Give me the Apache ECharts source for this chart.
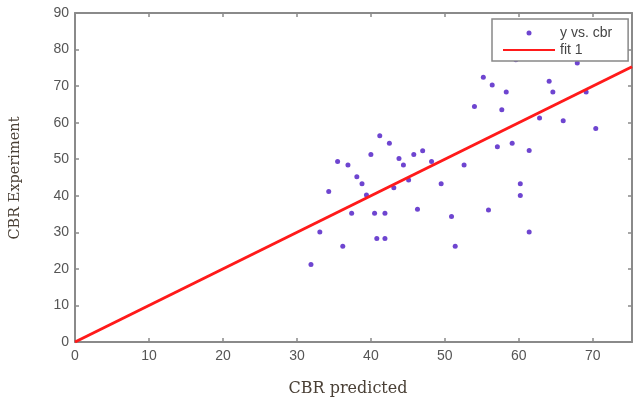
<!DOCTYPE html>
<html>
<head>
<meta charset="utf-8">
<script src="https://cdn.jsdelivr.net/npm/echarts@6/dist/echarts.min.js"></script>
<style>
  html, body { margin: 0; padding: 0; background: #fff; }
  #chart { width: 633px; height: 397px; }
</style>
</head>
<body>
<div id="chart"></div>
<script>
// CBR predicted (x) vs CBR experiment (y)
var cbrPred = [41.2, 42.5, 40.0, 35.5, 36.9, 43.8, 45.8, 47.0, 44.4, 48.2,
               52.6, 38.1, 38.8, 45.1, 49.5, 43.1, 34.3, 39.4, 37.4, 40.5,
               41.9, 46.3, 50.9, 33.1, 36.2, 40.8, 41.9, 51.4, 31.9,
               59.6, 67.9, 55.2, 56.4, 58.3, 64.1, 64.6, 69.1, 54.0, 57.7,
               62.8, 66.0, 70.4, 57.1, 59.1, 61.4, 60.2, 60.2, 55.9, 61.4];
var cbrExp  = [56.4, 54.4, 51.3, 49.4, 48.4, 50.2, 51.3, 52.3, 48.4, 49.4,
               48.4, 45.2, 43.3, 44.3, 43.3, 42.2, 41.2, 40.2, 35.2, 35.2,
               35.2, 36.3, 34.3, 30.1, 26.2, 28.3, 28.3, 26.2, 21.2,
               77.2, 76.3, 72.4, 70.3, 68.4, 71.3, 68.4, 68.4, 64.4, 63.5,
               61.3, 60.5, 58.4, 53.4, 54.4, 52.4, 43.3, 40.1, 36.1, 30.1];

// fit 1 (y = x)
var fitX = [0, 75.3];
var fitY = [0, 75.3];

var xTicks = [0, 10, 20, 30, 40, 50, 60, 70];
var yTicks = [0, 10, 20, 30, 40, 50, 60, 70, 80, 90];

var pts = [];
for (var i = 0; i < cbrPred.length; i++) {
    pts.push([cbrPred[i], cbrExp[i]]);
}
var fitData = [];
for (var j = 0; j < fitX.length; j++) {
    fitData.push([fitX[j], fitY[j]]);
}

var axisGray = '#8a8a8a';
var tickFont = { color: '#555', fontSize: 14, fontFamily: 'Liberation Sans' };

function xAx(pos, labels) {
    return {
        type: 'value', position: pos, min: 0, max: 75.3, interval: 10,
        axisLine: { show: true, onZero: false, lineStyle: { color: axisGray, width: 2 } },
        axisTick: { show: true, inside: true, length: 4, lineStyle: { color: axisGray, width: 1.5 }, customValues: xTicks },
        axisLabel: { show: labels, margin: 7, customValues: xTicks, color: tickFont.color, fontSize: tickFont.fontSize, fontFamily: tickFont.fontFamily },
        splitLine: { show: false }
    };
}
function yAx(pos, labels) {
    return {
        type: 'value', position: pos, min: 0, max: 90, interval: 10,
        axisLine: { show: true, onZero: false, lineStyle: { color: axisGray, width: 2 } },
        axisTick: { show: true, inside: true, length: 4, lineStyle: { color: axisGray, width: 1.5 }, customValues: yTicks },
        axisLabel: { show: labels, margin: 6, customValues: yTicks, color: tickFont.color, fontSize: tickFont.fontSize, fontFamily: tickFont.fontFamily },
        splitLine: { show: false }
    };
}

var option = {
    backgroundColor: '#fff',
    animation: false,
    grid: { left: 75, right: 1, top: 13, bottom: 55, outerBoundsMode: 'none' },
    xAxis: [xAx('bottom', true), xAx('top', false)],
    yAxis: [yAx('left', true), yAx('right', false)],
    legend: {
        orient: 'vertical',
        left: 492, top: 19,
        padding: [7, 16, 4, 10],
        itemWidth: 52, itemHeight: 5, itemGap: 3,
        backgroundColor: '#fff',
        borderColor: '#888', borderWidth: 1.5, borderRadius: 0,
        textStyle: { color: '#444', fontSize: 14, lineHeight: 14, fontFamily: 'Liberation Sans' },
        data: [
            { name: 'y vs. cbr' },
            { name: 'fit 1', itemStyle: { opacity: 0, borderWidth: 0 } }
        ]
    },
    graphic: [
        {
            type: 'text', x: 15, y: 178, rotation: Math.PI / 2,
            style: { text: 'CBR Experiment', fill: '#4a4036', font: '14.5px "DejaVu Serif"', align: 'center', verticalAlign: 'middle' }
        },
        {
            type: 'text', x: 348, y: 389,
            style: { text: 'CBR predicted', fill: '#4a4036', font: '16px "DejaVu Serif"', align: 'center', verticalAlign: 'middle' }
        }
    ],
    series: [
        {
            name: 'y vs. cbr', type: 'scatter',
            symbol: 'circle', symbolSize: 5,
            itemStyle: { color: '#4a16c4' },
            data: pts
        },
        {
            name: 'fit 1', type: 'line',
            symbol: 'none', showSymbol: false, silent: true,
            lineStyle: { color: '#ff1a1a', width: 3 },
            itemStyle: { color: '#ff1a1a' },
            data: fitData
        }
    ]
};

var myChart = echarts.init(document.getElementById('chart'));
myChart.setOption(option);
</script>
</body>
</html>
